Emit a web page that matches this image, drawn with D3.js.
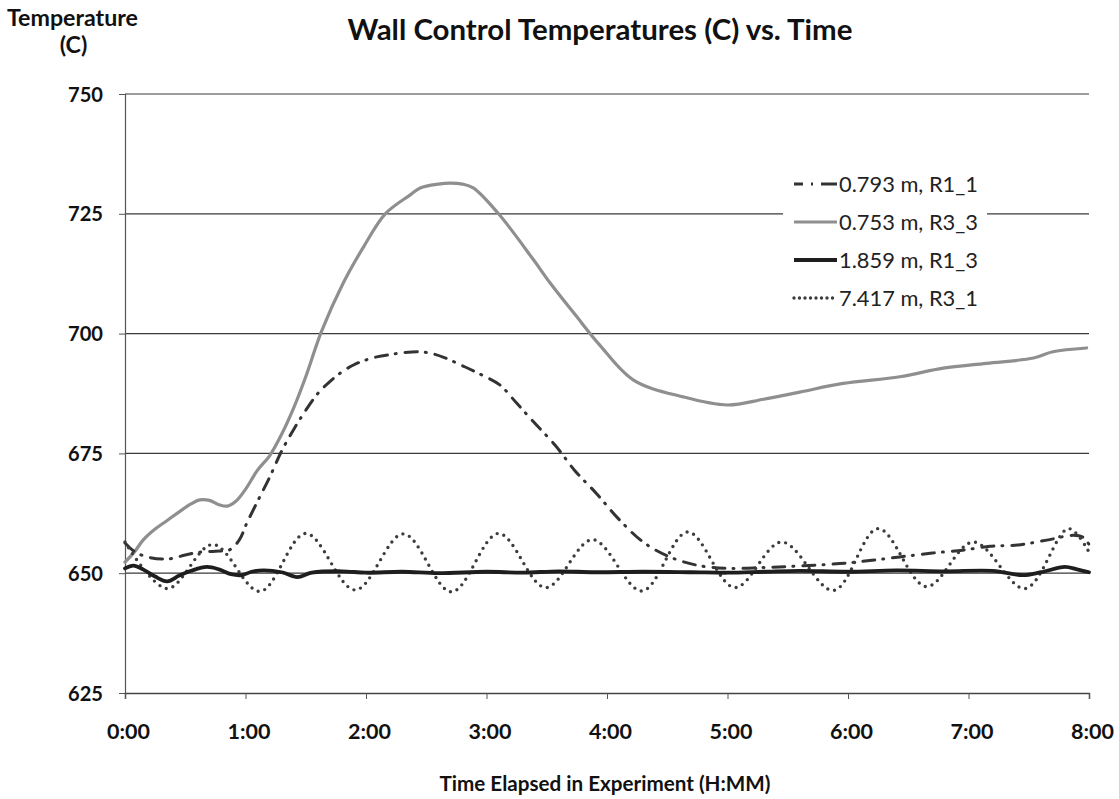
<!DOCTYPE html>
<html><head><meta charset="utf-8">
<script src="https://cdn.jsdelivr.net/npm/d3@7"></script>
<style>body{margin:0;background:#fff}svg{display:block}</style>
</head><body>
<svg id="c" width="1119" height="799"></svg>
<script>
// ---- data (hours elapsed, temperature C) ----
const xTicks = [0,1,2,3,4,5,6,7,8];
const xTickLabels = ["0:00","1:00","2:00","3:00","4:00","5:00","6:00","7:00","8:00"];
const yTicks = [625,650,675,700,725,750];
const seriesNames = ["0.793 m, R1_1","0.753 m, R3_3","1.859 m, R1_3","7.417 m, R3_1"];

const r1_1_t = [0,0.08,0.2,0.37,0.5,0.62,0.75,0.87,0.95,1.01,1.1,1.2,1.3,1.4,1.5,1.6,1.7,1.8,1.9,2.0,2.1,2.2,2.3,2.45,2.55,2.65,2.8,2.95,3.11,3.25,3.39,3.57,3.73,3.91,4.09,4.3,4.52,4.76,5.02,5.3,5.6,5.93,6.2,6.43,6.7,6.95,7.18,7.41,7.65,7.87,7.95,8.0];
const r1_1_v = [656.3,654.5,653.3,653.0,653.8,654.4,654.6,654.9,657,660.4,665,670,675.5,680,684,687.5,690,692,693.5,694.5,695.2,695.6,696,696.2,695.8,695,693.3,691.5,689.3,685.5,681.6,676.7,671.5,666.7,661.5,656.5,653.4,651.6,651,651.2,651.5,652,652.7,653.4,654.2,654.8,655.6,655.9,656.9,657.9,657.5,656];

const r3_3_t = [0,0.08,0.15,0.25,0.35,0.45,0.55,0.62,0.7,0.78,0.85,0.92,1.0,1.1,1.2,1.3,1.4,1.5,1.63,1.81,1.98,2.16,2.37,2.45,2.6,2.7,2.8,2.89,3.1,3.39,3.53,3.75,3.94,4.22,4.63,5.0,5.3,5.6,5.96,6.43,6.79,7.15,7.54,7.7,7.98];
const r3_3_v = [652.3,654.5,656.9,659.2,661,662.8,664.5,665.3,665.2,664.3,664,665,667.5,671.5,674.5,679,684.5,691,700.4,710.5,718.1,725,729,730.4,731.2,731.4,731.2,730.4,725,715.4,710.5,703.5,697.6,690.3,686.8,685.1,686.3,687.8,689.6,691,692.8,693.8,694.9,696.2,697];

const r1_3_t = [0,0.07,0.15,0.25,0.35,0.45,0.55,0.68,0.78,0.88,0.97,1.05,1.15,1.3,1.43,1.55,1.8,2.0,2.3,2.6,3.0,3.3,3.6,3.9,4.3,4.7,5.0,5.3,5.6,6.0,6.4,6.8,7.2,7.45,7.6,7.8,7.9,8.0];
const r1_3_v = [651,651.6,650.8,649.3,648.3,649.5,650.5,651.3,650.8,649.8,649.6,650.3,650.6,650.2,649.2,650.1,650.4,650.1,650.3,650.0,650.3,650.1,650.4,650.2,650.3,650.2,650.1,650.3,650.5,650.3,650.6,650.4,650.5,649.6,650.2,651.3,650.8,650.2];

const r3_1_t = [0,0.35,0.73,1.12,1.5,1.91,2.31,2.71,3.1,3.49,3.88,4.29,4.67,5.06,5.45,5.88,6.25,6.65,7.04,7.47,7.83,8.0];
const r3_1_v = [656.5,646.8,656.0,646.2,658.3,646.5,658.2,646.1,658.3,647.0,657.0,646.3,658.6,647.0,656.5,646.4,659.3,647.2,656.5,646.8,659.3,654.4];

// ---- layout ----
const svg = d3.select("#c");
const FONT = "Lato, 'Open Sans', sans-serif";
const x = d3.scaleLinear().domain([0,8]).range([125,1089]);
const y = d3.scaleLinear().domain([625,750]).range([693,94]);

function fit(sel, w){
  const l = sel.node().getComputedTextLength();
  const fs = parseFloat(sel.attr("font-size"));
  const nfs = fs*w/l; sel.attr("font-size", nfs); return nfs;
}

// gridlines
svg.append("g").selectAll("line").data(yTicks.filter(d=>d>625)).join("line")
  .attr("x1",125).attr("x2",1089).attr("y1",d=>y(d)).attr("y2",d=>y(d))
  .attr("stroke","#3a3a3a").attr("stroke-width",1.2);

// axes
const yAxis = d3.axisLeft(y).tickValues(yTicks).tickSize(6).tickFormat(d3.format("d"));
const yg = svg.append("g").attr("transform","translate(125,0)").call(yAxis);
yg.select(".domain").attr("stroke","#555").attr("stroke-width",1.2);
yg.selectAll(".tick line").attr("stroke","#555");
yg.selectAll("text").attr("font-family",FONT).attr("font-weight","bold").attr("fill","#111")
  .attr("font-size",18).attr("x",-22).attr("dy","0.35em");
const ys = fit(yg.select(".tick text"), 35);
yg.selectAll("text").attr("font-size", ys);

const xAxis = d3.axisBottom(x).tickValues(xTicks).tickSize(6).tickFormat((d,i)=>xTickLabels[i]);
const xg = svg.append("g").attr("transform","translate(0,693)").call(xAxis);
xg.select(".domain").attr("stroke","#444").attr("stroke-width",1.5);
xg.selectAll(".tick line").attr("stroke","#555");
xg.selectAll("text").attr("font-family",FONT).attr("font-weight","bold").attr("fill","#111")
  .attr("font-size",18).attr("y",46).attr("dy",0).attr("dx",3);
const xs = fit(xg.select(".tick text"), 43);
xg.selectAll("text").attr("font-size", xs);

// series
function pts(t,v){ return t.map((d,i)=>({t:d,v:v[i]})); }
const line = d3.line().x(d=>x(d.t)).y(d=>y(d.v)).curve(d3.curveCatmullRom.alpha(0.5));
const styles = [
  {data:pts(r1_1_t,r1_1_v), stroke:"#333", w:3, dash:"12,8,1,9", cap:"round"},
  {data:pts(r3_3_t,r3_3_v), stroke:"#8f8f8f", w:3.2, dash:null, cap:"round"},
  {data:pts(r1_3_t,r1_3_v), stroke:"#1e1e1e", w:3.8, dash:null, cap:"round"},
  {data:pts(r3_1_t,r3_1_v), stroke:"#3c3c3c", w:3.4, dash:"0,7", cap:"round"}
];
const order = [1,0,3,2];
order.forEach(i=>{
  const s = styles[i];
  svg.append("path").datum(s.data).attr("d",line).attr("fill","none")
    .attr("stroke",s.stroke).attr("stroke-width",s.w).attr("stroke-linecap",s.cap)
    .attr("stroke-linejoin","round").attr("stroke-dasharray",s.dash);
});

// legend
const lg = svg.append("g");
lg.append("rect").attr("x",783).attr("y",165).attr("width",204).attr("height",150).attr("fill","#fff");
const rowY = [184,222,260,298];
const legDash = ["9,8,2,8,20,100",null,null,"0,5.5"];
seriesNames.forEach((n,i)=>{
  const s = styles[i];
  lg.append("line").attr("x1",794).attr("x2",837).attr("y1",rowY[i]).attr("y2",rowY[i])
    .attr("stroke",s.stroke).attr("stroke-width",s.w).attr("stroke-linecap",i===3?"round":"butt")
    .attr("stroke-dasharray",legDash[i]);
});
const lt = lg.selectAll("text.l").data(seriesNames).join("text").attr("class","l")
  .attr("x",839).attr("y",(d,i)=>rowY[i]).attr("dy","0.35em")
  .attr("font-family",FONT).attr("font-size",20).attr("fill","#222").text(d=>d);
const ls = fit(d3.select(lt.nodes()[0]), 139);
lt.attr("font-size", ls);

// titles
const title = svg.append("text").attr("x",600).attr("y",40).attr("text-anchor","middle")
  .attr("font-family",FONT).attr("font-weight","bold").attr("font-size",24).attr("fill","#111")
  .text("Wall Control Temperatures (C) vs. Time");
fit(title, 505);
const yt = svg.append("text").attr("x",72.5).attr("y",26).attr("text-anchor","middle")
  .attr("font-family",FONT).attr("font-weight","bold").attr("font-size",16).attr("fill","#111")
  .text("Temperature");
const yts = fit(yt, 131);
svg.append("text").attr("x",73.5).attr("y",53).attr("text-anchor","middle")
  .attr("font-family",FONT).attr("font-weight","bold").attr("font-size",yts).attr("fill","#111")
  .text("(C)");
const xt = svg.append("text").attr("x",605).attr("y",791).attr("text-anchor","middle")
  .attr("font-family",FONT).attr("font-weight","bold").attr("font-size",18).attr("fill","#111")
  .text("Time Elapsed in Experiment (H:MM)");
fit(xt, 331);
</script>
</body></html>
